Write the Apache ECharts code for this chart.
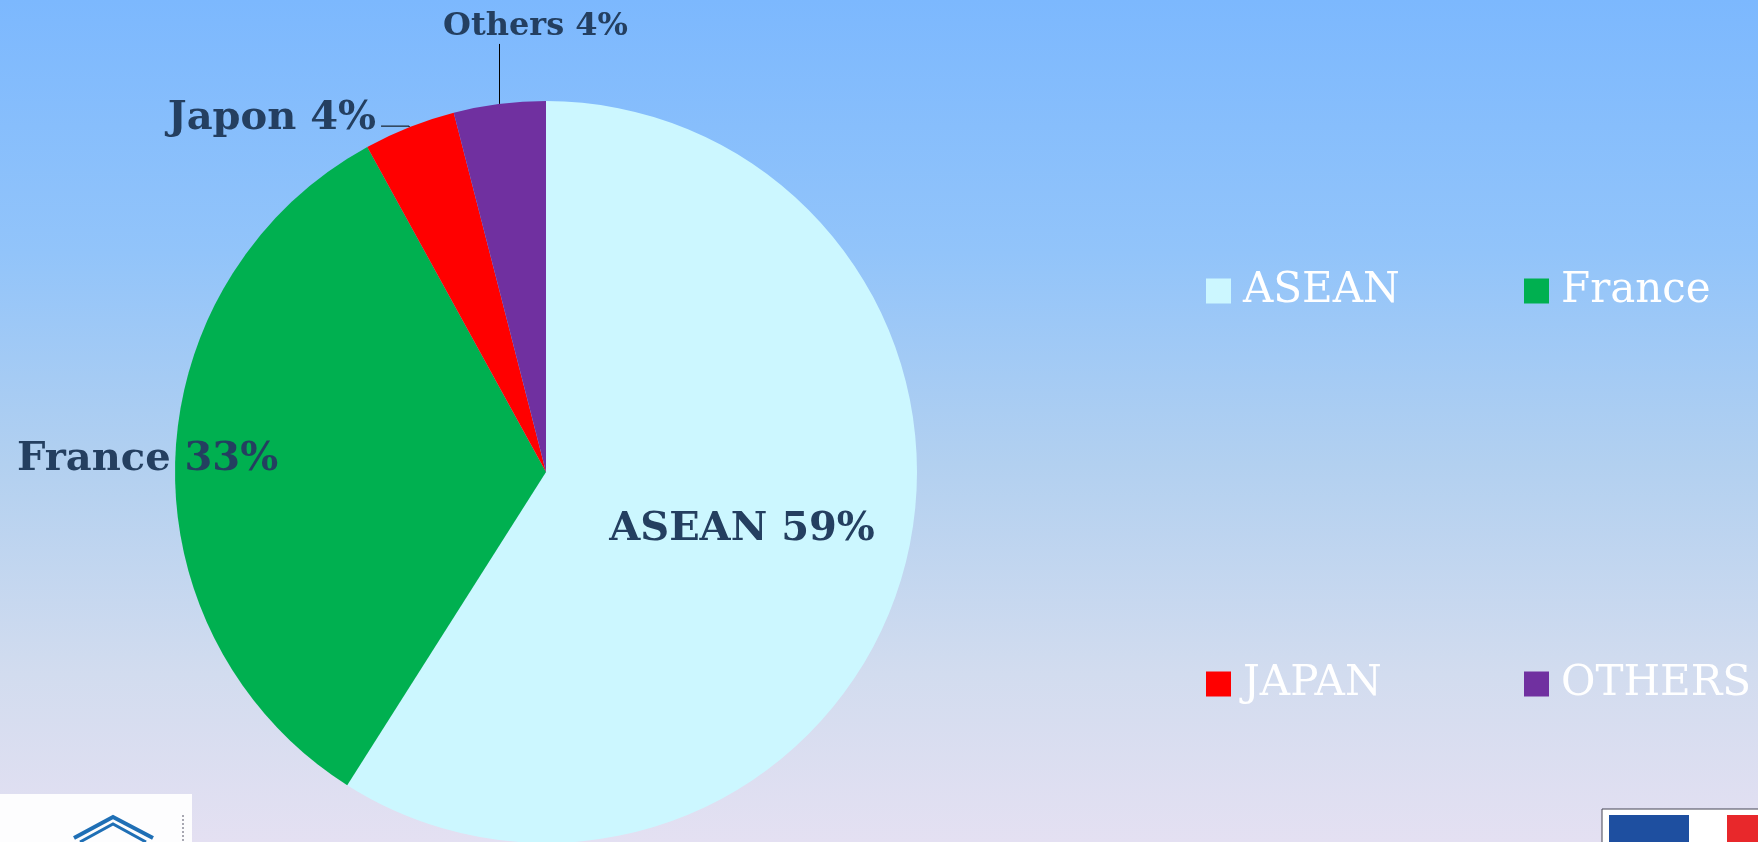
<!DOCTYPE html>
<html>
<head>
<meta charset="utf-8">
<script src="https://cdn.jsdelivr.net/npm/echarts@6/dist/echarts.min.js"></script>
<style>
html,body{margin:0;padding:0;}
#chart{width:1758px;height:842px;background:linear-gradient(to bottom,#7cb8fe 0%,#92c4fa 30%,#b2d0f0 55%,#d2dcef 80%,#e4e0f2 100%);}
</style>
</head>
<body>
<div id="chart"></div>
<script>
// ---- data ----
var categories = ['ASEAN', 'France', 'JAPAN', 'OTHERS'];
var labelNames = ['ASEAN', 'France', 'Japon', 'Others'];
var shares = [59, 33, 4, 4];
var colors = ['#ccf7ff', '#00b050', '#ff0000', '#7030a0'];
var legendColumn1 = ['ASEAN', 'JAPAN'];
var legendColumn2 = ['France', 'OTHERS'];

var labelColor = '#243f60';
var labelFont = '"DejaVu Serif", serif';

var labelStyles = [
  { position: 'inside', fontSize: 40 },
  { position: 'inside', fontSize: 40 },
  { position: 'outside', fontSize: 40 },
  { position: 'outside', fontSize: 32 }
];
var lineStyles = [
  { show: false },
  { show: false },
  { show: true, length: 1, length2: 28 },
  { show: true, length: 58, length2: 0 }
];

var seriesData = categories.map(function (c, i) {
  return {
    name: c,
    value: shares[i],
    itemStyle: { color: colors[i] },
    label: {
      show: true,
      position: labelStyles[i].position,
      fontSize: labelStyles[i].fontSize,
      formatter: labelNames[i] + ' ' + shares[i] + '%'
    },
    labelLine: {
      show: lineStyles[i].show,
      length: lineStyles[i].length,
      length2: lineStyles[i].length2,
      lineStyle: { color: '#000', width: 1 }
    }
  };
});

var chart = echarts.init(document.getElementById('chart'), null, { renderer: 'canvas' });

function makeLegend(name, left, top) {
  return {
    left: left,
    top: top,
    data: [name],
    orient: 'horizontal',
    icon: 'rect',
    itemWidth: 25,
    itemHeight: 25,
    selectedMode: false,
    textStyle: {
      color: '#ffffff',
      fontFamily: labelFont,
      fontSize: 42,
      padding: [0, 0, 0, 7]
    }
  };
}
var colLefts = [1201, 1519];
var rowTops = [265, 658];

chart.setOption({
  backgroundColor: 'transparent',
  animation: false,
  legend: [
    makeLegend(legendColumn1[0], colLefts[0], rowTops[0]),
    makeLegend(legendColumn2[0], colLefts[1], rowTops[0]),
    makeLegend(legendColumn1[1], colLefts[0], rowTops[1]),
    makeLegend(legendColumn2[1], colLefts[1], rowTops[1])
  ],
  graphic: [
    { type: 'rect', shape: { x: 0, y: 794, width: 192, height: 48 }, style: { fill: '#fdfdfe' } },
    { type: 'polyline', shape: { points: [[74, 838], [113, 817], [153, 838]] }, style: { stroke: '#1f6fb5', lineWidth: 4, fill: null } },
    { type: 'polyline', shape: { points: [[80, 842], [113, 824], [146, 842]] }, style: { stroke: '#1f6fb5', lineWidth: 3, fill: null } },
    { type: 'line', shape: { x1: 183, y1: 815, x2: 183, y2: 842 }, style: { stroke: '#556', lineWidth: 1, lineDash: [2, 2] } },
    { type: 'rect', shape: { x: 1602, y: 809, width: 160, height: 40 }, style: { fill: '#ffffff', stroke: '#445', lineWidth: 1 } },
    { type: 'rect', shape: { x: 1609, y: 815, width: 80, height: 30 }, style: { fill: '#1e4fa0' } },
    { type: 'circle', shape: { cx: 1712, cy: 835, r: 20 }, style: { fill: '#ffffff' } },
    { type: 'rect', shape: { x: 1727, y: 815, width: 35, height: 30 }, style: { fill: '#e8282b' } }
  ],
  series: [{
    type: 'pie',
    center: [546, 472],
    radius: 371,
    startAngle: 90,
    clockwise: true,
    avoidLabelOverlap: false,
    legendHoverLink: false,
    itemStyle: { borderWidth: 0 },
    label: {
      color: labelColor,
      fontFamily: labelFont,
      fontWeight: 'bold'
    },
    labelLayout: function (p) {
      if (p.dataIndex === 0) return { dx: 15, dy: 5 };
      if (p.dataIndex === 1) return { dx: -210, dy: -6 };
      if (p.dataIndex === 2) return { dy: -8 };
      if (p.dataIndex === 3 && p.labelLinePoints) {
        var a = p.labelLinePoints[0];
        var top = a[1] - 60;
        return {
          x: a[0] + 36, y: top - 1, align: 'center', verticalAlign: 'bottom',
          labelLinePoints: [[a[0], a[1]], [a[0], top], [a[0], top]]
        };
      }
      return {};
    },
    data: seriesData
  }]
});
</script>
</body>
</html>
